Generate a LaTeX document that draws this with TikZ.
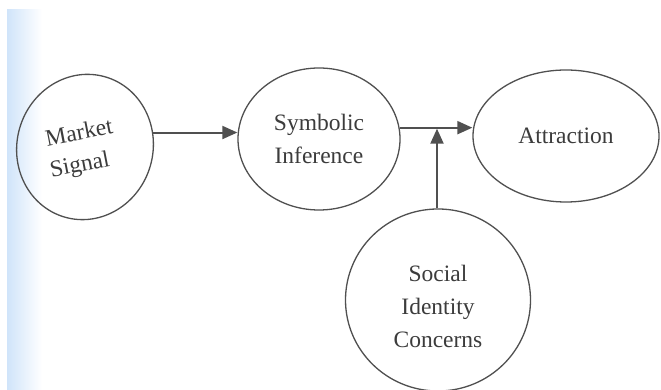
\documentclass[tikz,border=0pt]{standalone}
\usepackage{fontspec}
\setmainfont{Liberation Serif}
\usetikzlibrary{arrows.meta,shapes.geometric,calc}
\definecolor{ink}{HTML}{505050}
\definecolor{txt}{HTML}{3C3C3C}
\definecolor{stripblue}{RGB}{208,228,250}
\begin{document}
\begin{tikzpicture}[x=1pt,y=1pt,
  oval/.style={draw=ink, line width=1.3pt, ellipse, inner sep=0pt},
  lbl/.style={text=txt, align=center, font=\fontsize{23.5}{33}\selectfont},
  arr/.style={draw=ink, line width=2pt, -{Triangle[length=15pt,width=13pt]}}]
\useasboundingbox (0,0) rectangle (661,390);
\fill[white] (0,0) rectangle (661,390);
\shade[left color=stripblue, right color=white] (7,0) rectangle (42,380);
% nodes
\node[oval, minimum width=136pt, minimum height=146pt, rotate=-16] (ms) at (85,243) {};
\node[lbl, rotate=11, inner sep=0pt] (mst1) at (79,258) {Market};
\node[lbl, rotate=11, inner sep=0pt] (mst2) at (80,224) {Signal};
\node[oval, minimum width=162pt, minimum height=142pt, lbl] (si) at (319,251) {Symbolic\\Inference};
\node[oval, minimum width=186pt, minimum height=132pt, lbl] (at) at (566,254) {Attraction};
\node[oval, minimum width=185pt, minimum height=182pt] (sic) at (438,90) {};
\node[lbl] (sict) at (438,84) {Social\\Identity\\Concerns};
% connectors
\draw[arr] (ms.28.5) -- (ms.28.5 -| si.west);
\draw[arr] (si.8.6) -- (si.8.6 -| at.west);
\draw[arr, shorten >=1pt] ([xshift=-1pt]sic.north) -- ([xshift=-1pt]sic.north |- si.8.6);
\end{tikzpicture}
\end{document}
